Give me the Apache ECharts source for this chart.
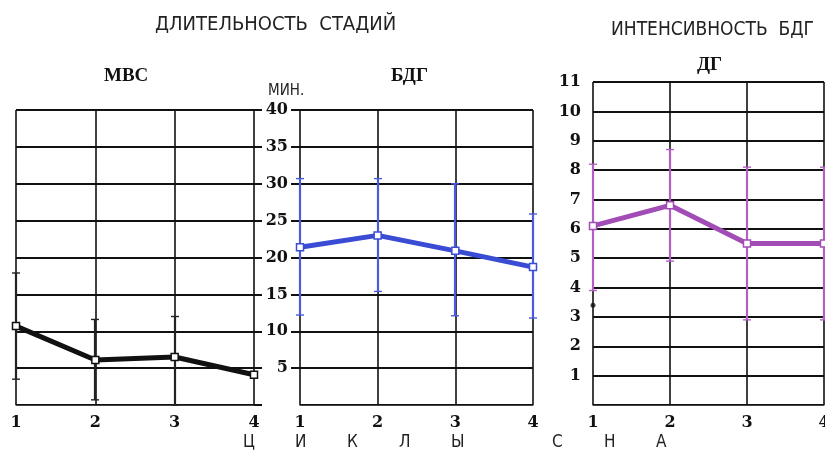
<!DOCTYPE html>
<html><head><meta charset="utf-8">
<script src="https://cdn.jsdelivr.net/npm/echarts@6/dist/echarts.min.js"></script>
<style>html,body{margin:0;padding:0;background:#fff}#c{width:825px;height:457px}</style>
</head><body><div id="c"></div>
<script>
// ---- data ----
const cycles = ['1', '2', '3', '4'];
const mvsMean = [10.7, 6.1, 6.5, 4.1];
const mvsLow  = [3.5, 0.7, 0.0, null];
const mvsHigh = [17.9, 11.6, 12.0, null];
const bdgMean = [21.4, 23.0, 20.9, 18.7];
const bdgLow  = [12.2, 15.4, 12.1, 11.8];
const bdgHigh = [30.7, 30.7, 30.0, 25.9];
const dgMean = [6.1, 6.8, 5.5, 5.5];
const dgLow  = [3.9, 4.9, 2.9, 2.9];
const dgHigh = [8.2, 8.7, 8.1, 8.1];
const dgStray = [3.4];
const durTicks = [0, 5, 10, 15, 20, 25, 30, 35, 40];
const intTicks = [0, 1, 2, 3, 4, 5, 6, 7, 8, 9, 10, 11];
const bottomLetters = ['Ц', 'И', 'К', 'Л', 'Ы', '', 'С', 'Н', 'А'];

// ---- chart ----
const numFont = {fontFamily: 'DejaVu Serif', fontWeight: 'bold', fontSize: 16, color: '#111'};
const narrow = '"Liberation Sans Narrow", "DejaVu Sans Condensed", sans-serif';
function errData(lo, hi) {
  const out = [];
  lo.forEach((v, i) => { if (v != null && hi[i] != null) out.push([i, v, hi[i]]); });
  return out;
}
function errSeries(idx, lo, hi, color) {
  return {
    type: 'custom', xAxisIndex: idx, yAxisIndex: idx, z: 3,
    data: errData(lo, hi),
    renderItem: function (params, api) {
      const a = api.coord([api.value(0), api.value(1)]);
      const b = api.coord([api.value(0), api.value(2)]);
      const st = {stroke: color, lineWidth: 1.4};
      const x = Math.round(a[0]);
      return {type: 'group', children: [
        {type: 'line', shape: {x1: x, y1: a[1], x2: x, y2: b[1]}, style: {stroke: color, lineWidth: 2.2}},
        {type: 'line', shape: {x1: x - 4, y1: a[1], x2: x + 4, y2: a[1]}, style: st},
        {type: 'line', shape: {x1: x - 4, y1: b[1], x2: x + 4, y2: b[1]}, style: st}
      ]};
    }
  };
}
function lineSeries(idx, data, color) {
  return {
    type: 'line', xAxisIndex: idx, yAxisIndex: idx, z: 5, data: data,
    symbol: 'rect', symbolSize: 7, showSymbol: true,
    lineStyle: {color: color, width: 5},
    itemStyle: {color: '#fff', borderColor: color, borderWidth: 1.5},
    emphasis: {disabled: true}
  };
}
function xAxis(idx) {
  return {
    type: 'category', gridIndex: idx, data: cycles, boundaryGap: false,
    axisLine: {show: true, lineStyle: {color: '#444', width: 1}},
    axisTick: {show: false},
    axisLabel: Object.assign({margin: 10, interval: 0}, numFont),
    splitLine: {show: true, interval: 0, lineStyle: {color: '#111', width: 1.6}}
  };
}
const ySplit = {show: true, lineStyle: {color: '#111', width: 2}};

const graphics = [];
let gx = 249;
bottomLetters.forEach((ch) => {
  if (ch) graphics.push({type: 'text', left: gx - 6, top: 434,
    style: {text: ch, font: '17px ' + narrow, fill: '#222'}});
  gx += ch ? 52 : 49;
});

const option = {
  animation: false,
  title: [
    {text: 'ДЛИТЕЛЬНОСТЬ  СТАДИЙ', left: 150, top: 10,
      textStyle: {fontFamily: narrow, fontWeight: 'normal', fontSize: 20, color: '#222'}},
    {text: 'ИНТЕНСИВНОСТЬ  БДГ', left: 606, top: 16,
      textStyle: {fontFamily: narrow, fontWeight: 'normal', fontSize: 19, color: '#222'}},
    {text: 'МВС', left: 99, top: 62, textStyle: {fontFamily: 'Liberation Serif', fontWeight: 'bold', fontSize: 19, color: '#111'}},
    {text: 'БДГ', left: 386, top: 62, textStyle: {fontFamily: 'Liberation Serif', fontWeight: 'bold', fontSize: 19, color: '#111'}},
    {text: 'ДГ', left: 692, top: 51, textStyle: {fontFamily: 'Liberation Serif', fontWeight: 'bold', fontSize: 19, color: '#111'}},
    {text: 'МИН.', left: 263, top: 79, textStyle: {fontFamily: narrow, fontWeight: 'normal', fontSize: 15, color: '#222'}}
  ],
  graphic: graphics,
  grid: [
    {left: 16, right: 571, top: 110, bottom: 52, containLabel: false, outerBoundsMode: 'none'},
    {left: 300, right: 292, top: 110, bottom: 52, containLabel: false, outerBoundsMode: 'none'},
    {left: 593, right: 1, top: 82, bottom: 52, containLabel: false, outerBoundsMode: 'none'}
  ],
  xAxis: [xAxis(0), xAxis(1), xAxis(2)],
  yAxis: [
    {type: 'value', gridIndex: 0, position: 'right', min: durTicks[0], max: durTicks[durTicks.length - 1], interval: 5,
      axisLine: {show: false}, axisTick: {show: true, length: 8, lineStyle: {color: '#111', width: 2}},
      axisLabel: {show: false}, splitLine: ySplit},
    {type: 'value', gridIndex: 1, position: 'left', min: durTicks[0], max: durTicks[durTicks.length - 1], interval: 5,
      axisLine: {show: false}, axisTick: {show: true, length: 9, lineStyle: {color: '#111', width: 2}},
      axisLabel: Object.assign({margin: 12, showMinLabel: false}, numFont), splitLine: ySplit},
    {type: 'value', gridIndex: 2, position: 'left', min: intTicks[0], max: intTicks[intTicks.length - 1], interval: 1,
      axisLine: {show: false}, axisTick: {show: false},
      axisLabel: Object.assign({margin: 12, showMinLabel: false}, numFont), splitLine: ySplit}
  ],
  series: [
    errSeries(0, mvsLow, mvsHigh, '#222'),
    lineSeries(0, mvsMean, '#111'),
    errSeries(1, bdgLow, bdgHigh, '#4a5be0'),
    lineSeries(1, bdgMean, '#3a4cd4'),
    errSeries(2, dgLow, dgHigh, '#b25ec4'),
    lineSeries(2, dgMean, '#a24db6'),
    {type: 'scatter', xAxisIndex: 2, yAxisIndex: 2, z: 6, data: [[0, dgStray[0]]],
      symbol: 'circle', symbolSize: 5, itemStyle: {color: '#111'}}
  ]
};
echarts.init(document.getElementById('c')).setOption(option);
</script></body></html>
